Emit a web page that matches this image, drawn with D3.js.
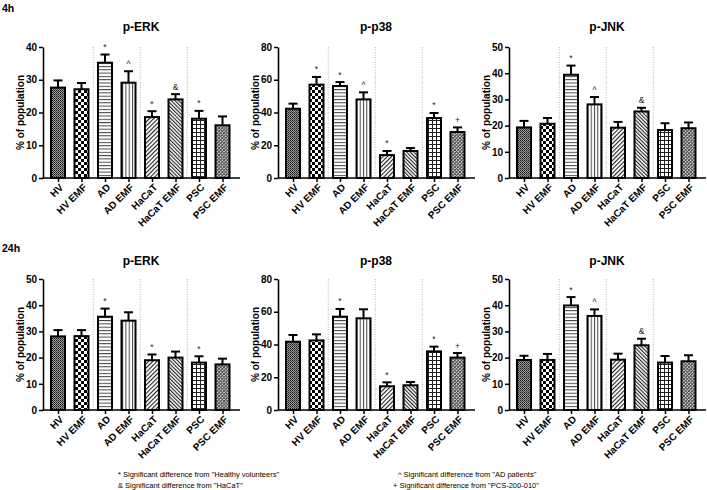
<!DOCTYPE html>
<html><head><meta charset="utf-8">
<script src="https://cdn.jsdelivr.net/npm/d3@7"></script>
<style>body{margin:0;background:#fff}svg{display:block;font-family:"Liberation Sans",Arial,sans-serif}</style>
</head><body><svg id="c" width="707" height="490"></svg>
<script>
const categories = ["HV","HV EMF","AD","AD EMF","HaCaT","HaCaT EMF","PSC","PSC EMF"];
const rowTags = ["4h","24h"];
const titles = ["p-ERK","p-p38","p-JNK"];
const ticksERK4 = [0,10,20,30,40];
const ticks50 = [0,10,20,30,40,50];
const ticks80 = [0,20,40,60,80];

const erk4 = [27.6,27.1,35.2,29.1,18.6,24.0,18.1,16.1];
const erk4Err = [2.2,1.9,2.5,3.5,1.8,1.6,2.4,2.7];
const erk4Sig = ["","","*","^","*","&","*",""];
const p38_4 = [42.3,57.0,56.2,48.0,14.0,16.5,36.6,28.1];
const p38_4Err = [3.1,4.7,2.4,4.3,2.5,1.8,3.1,2.8];
const p38_4Sig = ["","*","*","^","*","","*","+"];
const jnk4 = [19.3,20.7,39.4,28.1,19.2,25.4,18.3,19.0];
const jnk4Err = [2.5,2.2,3.5,2.8,2.2,1.4,2.6,2.2];
const jnk4Sig = ["","","*","^","","&","",""];

const erk24 = [28.1,28.2,35.6,34.1,19.0,20.0,18.1,17.4];
const erk24Err = [2.4,2.3,3.1,3.2,2.2,2.3,2.4,2.2];
const erk24Sig = ["","","*","","*","","*",""];
const p38_24 = [41.7,42.5,57.0,56.0,14.5,15.1,35.8,32.0];
const p38_24Err = [4.1,3.7,4.7,5.5,2.4,2.0,2.9,2.8];
const p38_24Sig = ["","","*","","*","","*","+"];
const jnk24 = [19.1,19.1,39.9,35.9,19.2,24.7,18.1,18.6];
const jnk24Err = [1.6,2.3,3.2,2.5,2.3,2.5,2.5,2.3];
const jnk24Sig = ["","","*","^","","&","",""];

const legendLines = [
  '* Significant difference from "Healthy volunteers"',
  '& Significant difference from "HaCaT"',
  '^ Significant difference from "AD patients"',
  '+ Significant difference from "PCS-200-010"'
];

const panels = [
  {row:0,col:0,vals:erk4,err:erk4Err,sig:erk4Sig,ticks:ticksERK4},
  {row:0,col:1,vals:p38_4,err:p38_4Err,sig:p38_4Sig,ticks:ticks80},
  {row:0,col:2,vals:jnk4,err:jnk4Err,sig:jnk4Sig,ticks:ticks50},
  {row:1,col:0,vals:erk24,err:erk24Err,sig:erk24Sig,ticks:ticks50},
  {row:1,col:1,vals:p38_24,err:p38_24Err,sig:p38_24Sig,ticks:ticks80},
  {row:1,col:2,vals:jnk24,err:jnk24Err,sig:jnk24Sig,ticks:ticks50}
];

const svg = d3.select("#c");
const defs = svg.append("defs");
function pat(id,w,h,rot,draw){
  const p = defs.append("pattern").attr("id",id).attr("patternUnits","userSpaceOnUse")
    .attr("width",w).attr("height",h);
  if(rot) p.attr("patternTransform","rotate("+rot+")");
  draw(p);
}
pat("p0",2,2,0,p=>{p.append("rect").attr("width",2).attr("height",2).attr("fill","#9a9a9a");
  p.append("rect").attr("width",1).attr("height",1).attr("fill","#111");
  p.append("rect").attr("x",1).attr("y",1).attr("width",1).attr("height",1).attr("fill","#444");});
pat("p1",6,6,0,p=>{p.append("rect").attr("width",6).attr("height",6).attr("fill","#fff");
  p.append("rect").attr("width",3).attr("height",3).attr("fill","#000");
  p.append("rect").attr("x",3).attr("y",3).attr("width",3).attr("height",3).attr("fill","#000");});
pat("p2",4,3.3,0,p=>{p.append("rect").attr("width",4).attr("height",3.3).attr("fill","#fff");
  p.append("rect").attr("y",0).attr("width",4).attr("height",1).attr("fill","#444");});
pat("p3",3.3,4,0,p=>{p.append("rect").attr("width",3.3).attr("height",4).attr("fill","#fff");
  p.append("rect").attr("x",0).attr("width",1).attr("height",4).attr("fill","#444");});
pat("p4",3,3,45,p=>{p.append("rect").attr("width",3).attr("height",3).attr("fill","#fff");
  p.append("rect").attr("width",1.1).attr("height",3).attr("fill","#222");});
pat("p5",2.6,2.6,-45,p=>{p.append("rect").attr("width",2.6).attr("height",2.6).attr("fill","#fff");
  p.append("rect").attr("width",1.1).attr("height",2.6).attr("fill","#222");});
pat("p6",4,4,0,p=>{p.append("rect").attr("width",4).attr("height",4).attr("fill","#fff");
  p.append("rect").attr("width",4).attr("height",1).attr("fill","#222");
  p.append("rect").attr("width",1).attr("height",4).attr("fill","#222");});
pat("p7",2.4,2.4,45,p=>{p.append("rect").attr("width",2.4).attr("height",2.4).attr("fill","#ddd");
  p.append("rect").attr("width",0.9).attr("height",2.4).attr("fill","#333");
  p.append("rect").attr("width",2.4).attr("height",0.9).attr("fill","#555");});

const colX = [43,278,509];
const rows = [{top:47,bottom:178,titleY:31,tagY:12},{top:279,bottom:410,titleY:265,tagY:252}];

rows.forEach((r,i)=>{
  svg.append("text").attr("x",2).attr("y",r.tagY).attr("font-size",10.5).attr("font-weight","bold").text(rowTags[i]);
});

panels.forEach(P=>{
  const r = rows[P.row], ax = colX[P.col];
  const g = svg.append("g");
  const y = d3.scaleLinear().domain([0,d3.max(P.ticks)]).range([r.bottom,r.top]);
  const x = d3.scalePoint().domain(categories).range([ax+15, ax+15+7*23.5]);

  g.append("text").attr("x",ax+98).attr("y",r.titleY).attr("text-anchor","middle")
    .attr("font-size",12).attr("font-weight","bold").text(titles[P.col]);

  [[1,2],[3,4],[5,6]].forEach(([a,b])=>{
    const xm=(x(categories[a])+x(categories[b]))/2;
    g.append("line").attr("x1",xm).attr("x2",xm).attr("y1",r.top).attr("y2",r.bottom)
      .attr("stroke","#b5b5b5").attr("stroke-width",1).attr("stroke-dasharray","1,1.5");
  });

  const data = categories.map((c,i)=>({c,v:P.vals[i],e:P.err[i],s:P.sig[i],i}));
  data.forEach(d=>{
    const cx=x(d.c);
    g.append("line").attr("x1",cx).attr("x2",cx).attr("y1",y(d.v)).attr("y2",y(d.v+d.e))
      .attr("stroke","#000").attr("stroke-width",2);
    g.append("line").attr("x1",cx-4.5).attr("x2",cx+4.5).attr("y1",y(d.v+d.e)).attr("y2",y(d.v+d.e))
      .attr("stroke","#000").attr("stroke-width",2);
    if(d.s){
      g.append("text").attr("x",cx).attr("y",y(d.v+d.e)-4.5).attr("text-anchor","middle")
        .attr("font-size",8.5).attr("fill","#222").text(d.s);
    }
  });
  g.selectAll("rect.bar").data(data).enter().append("rect").attr("class","bar")
    .attr("x",d=>x(d.c)-7).attr("width",14)
    .attr("y",d=>y(d.v)).attr("height",d=>r.bottom-y(d.v))
    .attr("fill",d=>"url(#p"+d.i+")").attr("stroke","#000").attr("stroke-width",2);

  const ya = g.append("g").attr("transform","translate("+ax+",0)")
    .call(d3.axisLeft(y).tickValues(P.ticks).tickSize(4).tickSizeOuter(0).tickPadding(2));
  ya.select(".domain").attr("stroke-width",1.6);
  ya.selectAll(".tick line").attr("stroke-width",1.5);
  ya.selectAll("text").attr("font-size",10).attr("font-weight","bold").attr("font-family","Liberation Sans, Arial").attr("fill","#000");
  g.append("text").attr("transform","translate("+(ax-23)+","+((r.top+r.bottom)/2)+") rotate(-90)")
    .attr("text-anchor","middle").attr("dy","0.35em").attr("font-size",10).attr("font-weight","bold")
    .text("% of population");

  const xa = g.append("g").attr("transform","translate(0,"+r.bottom+")")
    .call(d3.axisBottom(x).tickSize(4).tickSizeOuter(0).tickFormat(""));
  xa.select(".domain").remove();
  xa.selectAll(".tick line").attr("stroke-width",1.5);
  g.append("line").attr("x1",ax).attr("x2",ax+197).attr("y1",r.bottom).attr("y2",r.bottom)
    .attr("stroke","#000").attr("stroke-width",1.6);
  g.selectAll("text.xl").data(categories).enter().append("text").attr("class","xl")
    .attr("transform",c=>"translate("+(x(c)+6)+","+(r.bottom+10)+") rotate(-45)")
    .attr("text-anchor","end").attr("font-size",10).attr("font-weight","bold").attr("fill","#000")
    .text(c=>c);
});

const lg = svg.append("g").attr("font-size",7.5).attr("fill","#000");
lg.append("text").attr("x",118).attr("y",477).text(legendLines[0]);
lg.append("text").attr("x",118).attr("y",488).text(legendLines[1]);
lg.append("text").attr("x",398).attr("y",477).text(legendLines[2]);
lg.append("text").attr("x",393).attr("y",488).text(legendLines[3]);
</script></body></html>
